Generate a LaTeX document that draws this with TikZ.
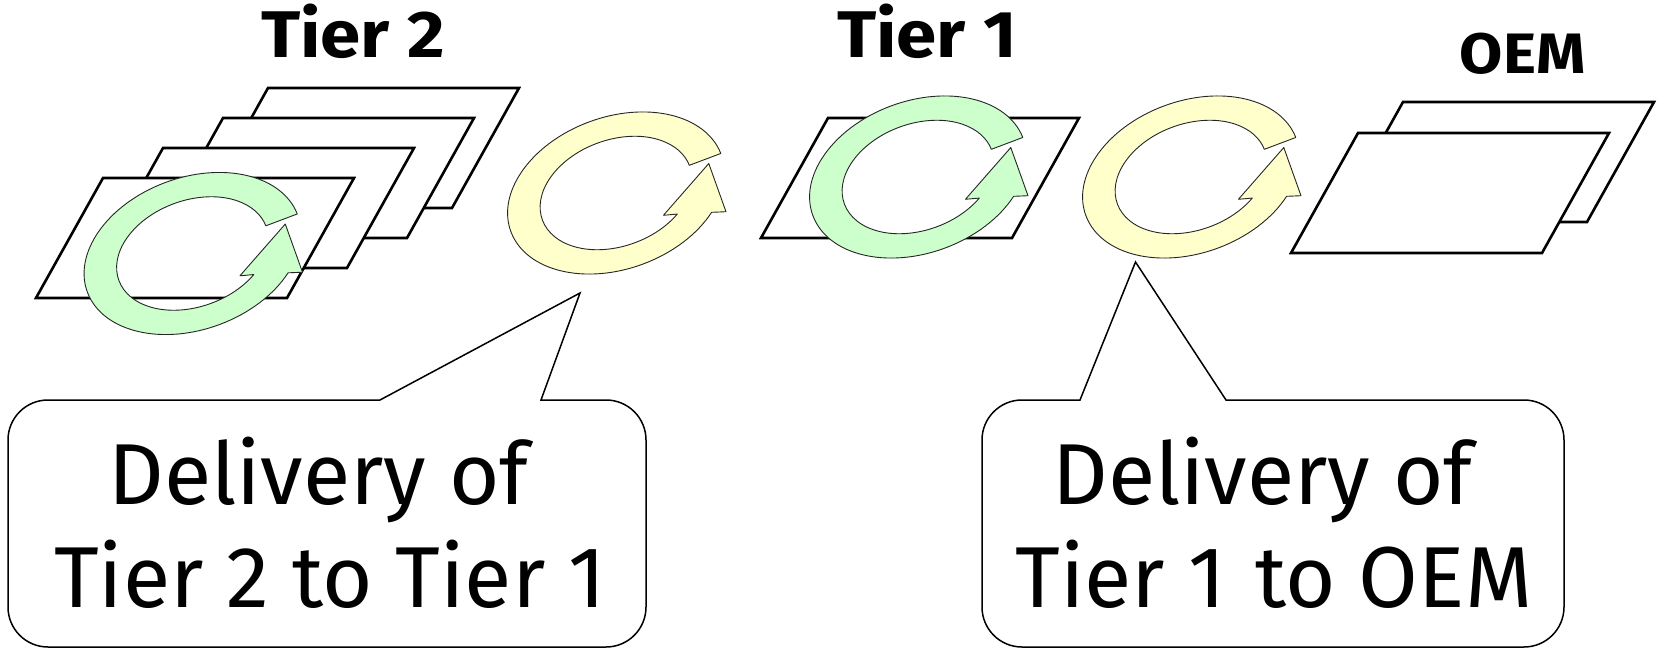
\documentclass[tikz,border=0pt]{standalone}
\usepackage{fontspec}
\setmainfont{Fira Sans}
\newfontfamily\labelfont[FakeStretch=1.1]{Fira Sans}
\definecolor{ringgreen}{HTML}{CCFFCC}
\definecolor{ringyellow}{HTML}{FFFFCC}
\tikzset{
  sheet/.style={draw=black, line width=2.6pt, fill=white, line join=miter},
  ring/.style={draw=black!85, line width=0.9pt, line join=round},
  callout/.style={draw=black, line width=1.5pt, fill=white},
  tierlabel/.style={font=\labelfont\bfseries\fontsize{66}{72}\selectfont, inner sep=0pt, anchor=base},
  oemlabel/.style={font=\labelfont\bfseries\fontsize{57}{62}\selectfont, inner sep=0pt, anchor=base},
  calltext/.style={font=\fontsize{86.5}{103}\selectfont, align=center, inner sep=0pt},
  sheetpic/.pic={\draw[sheet] (0,0) -- (251,0) -- (184,120) -- (-67,120) -- cycle;},
  cycarrow/.pic={
    \begin{scope}[y=1pt, rotate=20, xscale=112, yscale=76]
      \draw[ring, fill=#1] (1:1) arc[start angle=1, end angle=318, radius=1]
        -- (320:1.13) -- (356.5:0.87) -- (304:0.59) -- (310:0.7)
        arc[start angle=310, end angle=1, radius=0.7] -- cycle;
    \end{scope}}
}
\begin{document}
\begin{tikzpicture}[x=1pt,y=-1pt]
\useasboundingbox (0,0) rectangle (1657,650);
\fill[white] (0,0) rectangle (1657,650);

% Tier 2 stack
\pic at (268,88) {sheetpic};
\pic at (223,118) {sheetpic};
\pic at (163,148) {sheetpic};
\pic at (103,178) {sheetpic};
\pic at (192.5,253.5) {cycarrow=ringgreen};

% yellow 1
\pic at (616,193) {cycarrow=ringyellow};

% Tier 1
\pic at (828,118) {sheetpic};
\pic at (918,177) {cycarrow=ringgreen};

% yellow 2
\pic at (1191,177) {cycarrow=ringyellow};

% OEM
\pic at (1403,102) {sheetpic};
\pic at (1358,133) {sheetpic};

% labels
\node[tierlabel] (t2) at (353,57.5) {Tier 2};
\node[tierlabel] (t1) at (927,58) {Tier 1};
\node[oemlabel] (oem) at (1522.5,73.5) {OEM};

% callout 1
\coordinate (c1tip) at (580,293);
\draw[callout] (380,400) -- (c1tip) -- (541,400) -- (606,400)
  arc[start angle=270, end angle=360, radius=40] -- (646,607)
  arc[start angle=0, end angle=90, radius=40] -- (48,647)
  arc[start angle=90, end angle=180, radius=40] -- (8,440)
  arc[start angle=180, end angle=270, radius=40] -- cycle;
\node[calltext] (d1) at (330,523) {Delivery of\ \mbox{}\\Tier 2 to Tier 1};

% callout 2
\coordinate (c2tip) at (1135.5,262);
\draw[callout] (1080,400) -- (c2tip) -- (1226,400) -- (1524,400)
  arc[start angle=270, end angle=360, radius=40] -- (1564,607)
  arc[start angle=0, end angle=90, radius=40] -- (1022,647)
  arc[start angle=90, end angle=180, radius=40] -- (982,440)
  arc[start angle=180, end angle=270, radius=40] -- cycle;
\node[calltext] (d2) at (1274,523) {Delivery of\ \mbox{}\\Tier 1\hspace{0.08em} to OEM};
\end{tikzpicture}
\end{document}
